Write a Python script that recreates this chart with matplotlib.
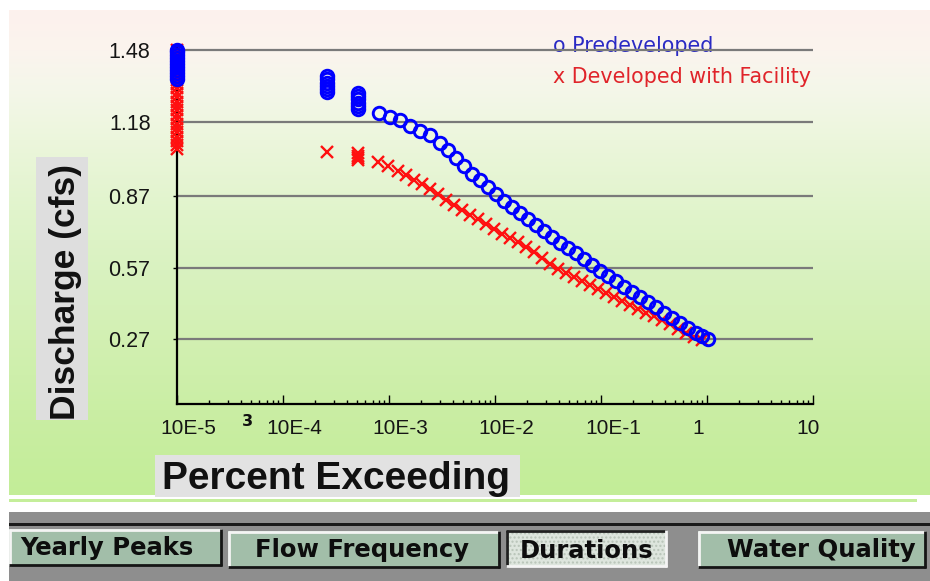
import numpy as np
import matplotlib
matplotlib.use('Agg')
import matplotlib.pyplot as plt
from matplotlib.patches import Rectangle
from matplotlib.transforms import ScaledTranslation
from matplotlib.ticker import FixedLocator, FixedFormatter, LogLocator, NullFormatter

# ---------------- data ----------------
# Predeveloped: percent exceeding (x) and discharge in cfs (y)
pre_x = [1e-5, 1e-5, 1e-5, 1e-5, 1e-5, 1e-5, 1e-5, 1e-5, 1e-5, 1e-5, 1e-5,
         2.6e-4, 2.6e-4, 2.6e-4, 2.6e-4, 2.6e-4, 2.6e-4,
         5.1e-4, 5.1e-4, 5.1e-4, 5.1e-4, 5.1e-4, 5.1e-4,
         8.05e-4, 1.02e-3, 1.27e-3, 1.58e-3, 1.96e-3, 2.44e-3, 3.03e-3, 3.61e-3,
         4.29e-3, 5.11e-3, 6.07e-3, 7.21e-3, 8.59e-3, 1.02e-2, 1.22e-2, 1.45e-2,
         1.72e-2, 2.05e-2, 2.44e-2, 2.90e-2, 3.45e-2, 4.10e-2, 4.89e-2, 5.81e-2,
         6.92e-2, 8.23e-2, 9.79e-2, 0.116, 0.139, 0.165, 0.196, 0.233, 0.277,
         0.330, 0.393, 0.468, 0.556, 0.662, 0.787, 0.897, 1.02]
pre_y = [1.482, 1.470, 1.458, 1.446, 1.433, 1.421, 1.408, 1.396, 1.383, 1.371, 1.358,
         1.372, 1.358, 1.344, 1.330, 1.316, 1.303,
         1.300, 1.287, 1.273, 1.259, 1.245, 1.232,
         1.217, 1.200, 1.187, 1.162, 1.141, 1.125, 1.091, 1.062,
         1.028, 0.995, 0.962, 0.936, 0.907, 0.878, 0.849, 0.824,
         0.798, 0.773, 0.748, 0.723, 0.698, 0.673, 0.652, 0.631,
         0.606, 0.581, 0.556, 0.535, 0.514, 0.489, 0.468, 0.447, 0.426,
         0.406, 0.380, 0.360, 0.339, 0.318, 0.297, 0.284, 0.272]

# Developed with Facility
dev_x = [1e-5, 1e-5, 1e-5, 1e-5, 1e-5, 1e-5, 1e-5, 1e-5, 1e-5, 1e-5, 1e-5, 1e-5,
         1e-5, 1e-5, 1e-5, 1e-5, 1e-5, 1e-5, 1e-5, 1e-5, 1e-5, 1e-5, 1e-5, 1e-5,
         2.6e-4,
         5.1e-4, 5.1e-4, 5.1e-4, 5.1e-4,
         7.87e-4, 9.80e-4, 1.22e-3, 1.45e-3, 1.72e-3, 2.05e-3, 2.44e-3, 2.90e-3,
         3.45e-3, 4.10e-3, 4.89e-3, 5.81e-3, 6.92e-3, 8.23e-3, 9.79e-3, 1.16e-2,
         1.39e-2, 1.65e-2, 1.96e-2, 2.33e-2, 2.77e-2, 3.30e-2, 3.93e-2, 4.68e-2,
         5.56e-2, 6.62e-2, 7.87e-2, 9.37e-2, 0.111, 0.133, 0.158, 0.188, 0.224,
         0.266, 0.316, 0.376, 0.448, 0.532, 0.634, 0.754, 0.897]
dev_y = [1.478, 1.462, 1.445, 1.428, 1.410, 1.392, 1.374, 1.356, 1.338, 1.320, 1.300, 1.282,
         1.264, 1.246, 1.228, 1.210, 1.190, 1.172, 1.154, 1.136, 1.118, 1.100, 1.082, 1.065,
         1.054,
         1.048, 1.038, 1.028, 1.018,
         1.012, 0.995, 0.974, 0.957, 0.936, 0.920, 0.899, 0.878,
         0.853, 0.832, 0.811, 0.790, 0.773, 0.753, 0.732, 0.711,
         0.694, 0.677, 0.656, 0.635, 0.610, 0.585, 0.564, 0.548,
         0.531, 0.514, 0.497, 0.481, 0.464, 0.447, 0.431, 0.414, 0.397,
         0.380, 0.368, 0.351, 0.334, 0.314, 0.297, 0.280, 0.268]

y_ticks = [0.27, 0.57, 0.87, 1.18, 1.48]
y_tick_labels = ['0.27', '0.57', '0.87', '1.18', '1.48']
x_ticks = [1e-5, 1e-4, 1e-3, 1e-2, 1e-1, 1, 10]
x_tick_labels = ['10E-5', '10E-4', '10E-3', '10E-2', '10E-1', '1', '10']
legend_labels = ['o Predeveloped', 'x Developed with Facility']
x_title = 'Percent Exceeding'
y_title = 'Discharge (cfs)'
button_labels = ['Yearly Peaks', 'Flow Frequency', 'Durations', 'Water Quality']

# ---------------- figure ----------------
W, H = 930, 581
fig = plt.figure(figsize=(W / 100, H / 100), dpi=100, facecolor='white')

# background layer in pixel coordinates
bg = fig.add_axes([0, 0, 1, 1], zorder=0)
bg.set_xlim(0, W)
bg.set_ylim(H, 0)
bg.axis('off')

stops_y = [0, 40, 80, 130, 200, 260, 330, 400, 485]
stops_c = ['#fdf1ed', '#fbf4ee', '#f4f7e9', '#ecf6dc', '#e1f4cc', '#d9f2c0',
           '#d2f0b2', '#caeea4', '#c3ed98']
rgb = np.array([matplotlib.colors.to_rgb(c) for c in stops_c])
ys = np.linspace(0, 485, 300)
grad = np.stack([np.interp(ys, stops_y, rgb[:, k]) for k in range(3)], axis=-1)[:, None, :]
bg.imshow(grad, extent=[9, W, 495, 10], aspect='auto', interpolation='bilinear', zorder=0)

bg.add_patch(Rectangle((9, 499), 908, 3, color='#c4ee9a', lw=0, zorder=1))
bg.add_patch(Rectangle((9, 512), W - 9, H - 512, color='#8e8e8e', lw=0, zorder=1))
bg.add_patch(Rectangle((9, 523), W - 9, 2.5, color='#1a1a1a', lw=0, zorder=2))

# axis title boxes
bg.add_patch(Rectangle((36, 157), 52, 263, color='#dedede', lw=0, zorder=2))
bg.add_patch(Rectangle((155, 455), 365, 42, color='#e2e2e2', lw=0, zorder=2))
bg.text(66, 292, y_title, rotation=90, ha='center', va='center', fontsize=25.5,
        fontweight='bold', family='Liberation Sans', color='#111111', zorder=3)
bg.text(336, 489, x_title, ha='center', va='baseline', fontsize=28,
        fontweight='bold', family='Liberation Sans', color='#111111', zorder=3)

# legend texts
bg.text(553, 52, legend_labels[0], ha='left', va='baseline', fontsize=14.9,
        family='DejaVu Sans', color='#2a2ac4', zorder=5)
bg.text(553, 83, legend_labels[1], ha='left', va='baseline', fontsize=14.9,
        family='DejaVu Sans', color='#e0242a', zorder=5)

# stray glyph under the x axis
bg.text(247.5, 421, '3', ha='center', va='center', fontsize=11.5, fontweight='bold',
        color='#111111', zorder=3)

# buttons
btn_boxes = [(9, 222, 529, 566), (228, 500, 531, 568), (506, 667, 530, 567), (698, 926, 531, 568)]
btn_text_x = [107, 362, 587, 821]
btn_sunken = [False, False, True, False]
for label, (x0, x1, y0, y1), tx, sunk in zip(button_labels, btn_boxes, btn_text_x, btn_sunken):
    face = '#dde5dd' if sunk else '#a2bea9'
    bg.add_patch(Rectangle((x0, y0), x1 - x0, y1 - y0, facecolor=face, lw=0, zorder=3,
                           hatch='....' if sunk else None, edgecolor='#b8c4b8'))
    hi, lo = ('#202020', '#f4f4f4') if sunk else ('#f4f4f4', '#151515')
    bg.plot([x0, x1], [y0 + 1, y0 + 1], color=hi, lw=2, zorder=4, solid_capstyle='butt')
    bg.plot([x0 + 1, x0 + 1], [y0, y1], color=hi, lw=2, zorder=4, solid_capstyle='butt')
    bg.plot([x0, x1], [y1 - 1, y1 - 1], color=lo, lw=2, zorder=4, solid_capstyle='butt')
    bg.plot([x1 - 1, x1 - 1], [y0, y1], color=lo, lw=2, zorder=4, solid_capstyle='butt')
    cy = (y0 + y1) / 2 + (3 if sunk else 1)
    bg.text(tx, cy, label, ha='center', va='center', fontsize=17.5,
            fontweight='bold', family='DejaVu Sans', color='#0d0d0d', zorder=5)

# ---------------- main plot ----------------
left, right, bottom_px = 177, 813, 404
ymax = 1.5
top_px = bottom_px - ymax * 239.2
ax = fig.add_axes([left / W, (H - bottom_px) / H, (right - left) / W, (bottom_px - top_px) / H],
                  zorder=2)
ax.patch.set_alpha(0)
ax.set_xscale('log')
ax.set_xlim(1e-5, 10)
ax.set_ylim(0, ymax)

for s in ['top', 'right']:
    ax.spines[s].set_visible(False)
for s in ['left', 'bottom']:
    ax.spines[s].set_color('black')
    ax.spines[s].set_linewidth(1.6)

ax.yaxis.set_major_locator(FixedLocator(y_ticks))
ax.yaxis.set_major_formatter(FixedFormatter(y_tick_labels))
ax.xaxis.set_major_locator(FixedLocator(x_ticks))
ax.xaxis.set_major_formatter(FixedFormatter(x_tick_labels))
ax.xaxis.set_minor_locator(LogLocator(base=10, subs=range(2, 10), numticks=20))
ax.xaxis.set_minor_formatter(NullFormatter())

ax.grid(axis='y', color='#7a7a7a', lw=1.6, zorder=1)
ax.set_axisbelow(True)

ax.tick_params(axis='y', direction='out', length=3, width=1, pad=16, labelsize=15.5,
               colors='black')
ax.tick_params(axis='x', which='major', direction='in', length=6.5, width=1, pad=11,
               labelsize=15)
ax.tick_params(axis='x', which='minor', direction='in', length=3, width=1)
for lab in ax.get_yticklabels() + ax.get_xticklabels():
    lab.set_fontfamily('Liberation Sans')
    lab.set_color('#151515')

x_label_shift = [11, 11, 11, 11, 12, -9, -5]
for lab, dx in zip(ax.get_xticklabels(), x_label_shift):
    lab.set_transform(lab.get_transform() + ScaledTranslation(dx / 100, 0, fig.dpi_scale_trans))

ax.plot(dev_x, dev_y, linestyle='none', marker='x', markersize=8, markeredgewidth=1.7,
        color='#ff1010', clip_on=False, zorder=3)
ax.plot(pre_x, pre_y, linestyle='none', marker='o', markersize=9, markeredgewidth=2.1,
        markerfacecolor='none', markeredgecolor='#0000ff', clip_on=False, zorder=4)

fig.savefig('out.png', dpi=100, facecolor='white')
